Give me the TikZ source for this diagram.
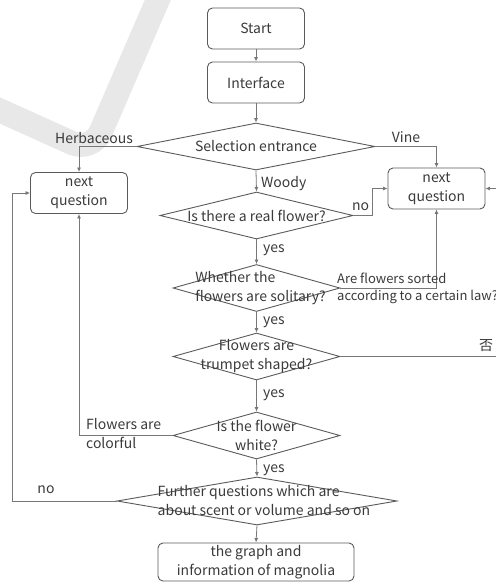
\documentclass[tikz,border=0pt]{standalone}
\usepackage{fontspec}
\setmainfont{Noto Sans CJK SC}
\usetikzlibrary{shapes.geometric,arrows.meta}
\definecolor{ln}{HTML}{5A5A5A}
\definecolor{cn}{HTML}{777777}
\definecolor{tx}{HTML}{3A3A3A}
\definecolor{wm}{HTML}{E8E8E8}
\begin{document}
\begin{tikzpicture}[x=1pt,y=-1pt,
  font=\fontsize{14}{19}\selectfont, text=tx,
  box/.style={draw=ln, rounded corners=5pt, line width=0.9pt, minimum width=97pt, minimum height=41pt, align=center, inner sep=0pt},
  dia/.style={draw=ln, diamond, inner sep=0pt, line width=0.9pt},
  arr/.style={draw=cn, line width=0.8pt, -{Latex[length=4.5pt,width=4pt]}},
  lnk/.style={draw=cn, line width=0.8pt},
  lbl/.style={inner sep=0pt},
  small/.style={font=\fontsize{13}{17}\selectfont}
]
\useasboundingbox (0,0) rectangle (496,582);
% watermark
\draw[wm, line width=24pt, rounded corners=22pt] (-10,106) -- (92,152) -- (163,-12);

% nodes
\node[box] (start) at (256,28.5) {Start};
\node[box] (iface) at (256,82.5) {Interface};
\node[dia, minimum width=238pt, minimum height=47pt, label={[lbl]center:Selection entrance}] (sel) at (256,146.5) {};
\node[box] (nqL) at (79,193) {next\\question};
\node[box] (nqR) at (436.5,188.5) {next\\question};
\node[dia, minimum width=193pt, minimum height=47pt, label={[lbl]center:Is there a real flower?}] (real) at (256.5,215.5) {};
\node[dia, minimum width=167pt, minimum height=47pt, label={[lbl,align=left,xshift=4pt]center:Whether the\\flowers are solitary?}] (sol) at (256.5,288) {};
\node[dia, minimum width=167pt, minimum height=47pt, label={[lbl,align=center]center:Flowers are\\trumpet shaped?}] (trum) at (256.5,356.5) {};
\node[dia, minimum width=167pt, minimum height=47pt, label={[lbl,align=center]center:Is the flower\\white?}] (white) at (256.5,435.5) {};
\node[dia, minimum width=280pt, minimum height=48pt, label={[lbl,align=left,xshift=7pt]center:Further questions which are\\about scent or volume and so on}] (fur) at (257,501) {};
\node[box, minimum width=196pt, minimum height=38pt] (final) at (256,562) {the graph and\\information of magnolia};

\coordinate (inR) at (497,188.5);
\coordinate (outR) at (497,356.5);

% connectors
\draw[arr] (start) -- (iface);
\draw[arr] (iface) -- (sel);
\draw[arr] (sel.west) -| (nqL.north);
\draw[arr] (sel.east) -| (nqR.north);
\draw[arr] (sel.south) -- (real.north);
\draw[arr] (real.east) -- ++(19,0) |- (nqR.west);
\draw[arr] (inR) -- (nqR.east);
\draw[arr] (real.south) -- (sol.north);
\draw[arr] (sol.east) -| (nqR.south);
\draw[arr] (sol.south) -- (trum.north);
\draw[lnk] (trum.east) -- (outR);
\draw[arr] (trum.south) -- (white.north);
\draw[arr] (white.west) -| (nqL.south);
\draw[arr] (white.south) -- (fur.north);
\draw[arr] (fur.west) -- ++(-104,0) |- (nqL.west);
\draw[arr] (fur.south) -- (final.north);

% connector labels
\node[lbl] (lherb) at (94,138) {Herbaceous};
\node[lbl] (lvine) at (406,137) {Vine};
\node[lbl, anchor=west] (lwoody) at (261,184) {Woody};
\node[lbl, anchor=west] (lno1) at (352,207) {no};
\node[lbl, anchor=west] (lyes1) at (263,250) {yes};
\node[lbl, anchor=west] (lyes2) at (263,322) {yes};
\node[lbl, anchor=west] (lyes3) at (263,395) {yes};
\node[lbl, anchor=west] (lyes4) at (263,470) {yes};
\node[lbl, anchor=west, align=left, small] (lsort) at (337,288) {Are flowers sorted\\according to a certain law?};
\node[lbl] (lfou) at (486,346) {否};
\node[lbl, anchor=west, align=left] (lcol) at (86,434) {Flowers are\\colorful};
\node[lbl] (lno2) at (46,490) {no};
\end{tikzpicture}
\end{document}
